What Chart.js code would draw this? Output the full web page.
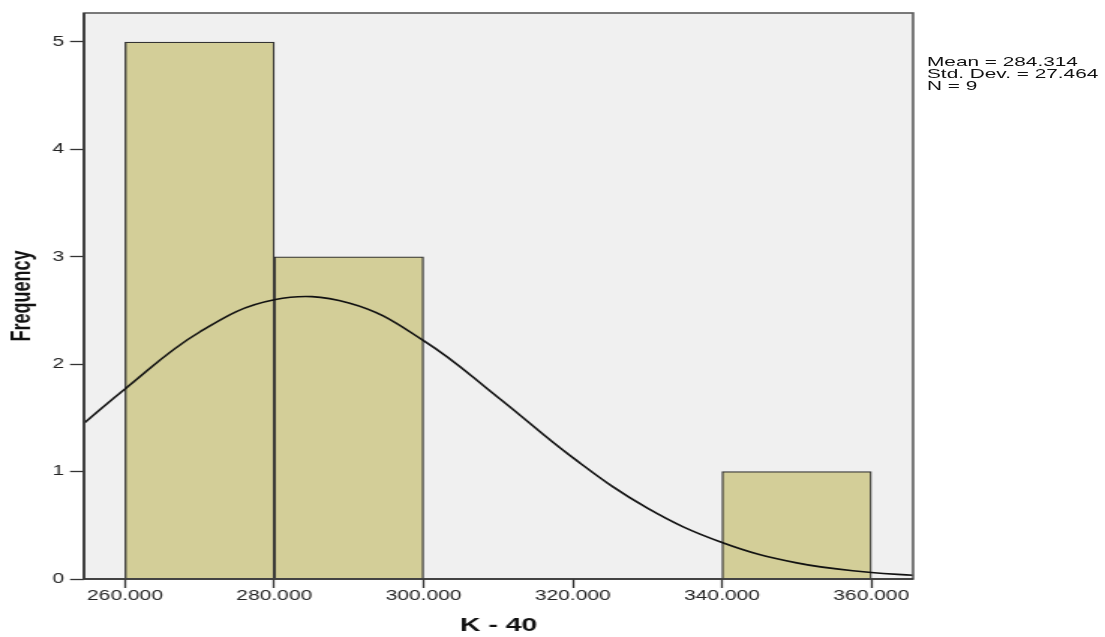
<!DOCTYPE html>
<html>
<head>
<meta charset="utf-8">
<script src="https://cdn.jsdelivr.net/npm/chart.js@4"></script>
<style>
  html, body { margin: 0; padding: 0; background: #fff; overflow: hidden; }
  #wrap { position: relative; width: 1105px; height: 637px; }
  #stats {
    position: absolute; left: 927px; top: 56px;
    font: 13px "Liberation Sans", Arial, sans-serif; line-height: 11.8px; color: #111;
    transform: scaleX(1.6); transform-origin: 0 0; white-space: nowrap;
  }
</style>
</head>
<body>
<div id="wrap">
  <!-- the reference is stretched sideways, so the canvas is drawn narrow and widened by css -->
  <canvas id="myChart" width="737" height="637" style="width:1105px;height:637px;display:block"></canvas>
  <div id="stats">Mean = 284.314<br>Std. Dev. = 27.464<br>N = 9</div>
</div>
<script>
// histogram bins (centres, width 20) and counts
const binCenters = [270, 290, 310, 330, 350];
const counts = [5, 3, 0, 0, 1];

// normal curve, values
const curveX = [254.5, 260, 270, 280, 290, 300, 310, 320, 330, 340, 350, 360, 365.6];
const curveY = [1.45, 1.77, 2.30, 2.60, 2.57, 2.22, 1.69, 1.13, 0.66, 0.34, 0.15, 0.06, 0.035];

const xTicks = [260, 280, 300, 320, 340, 360];
const yTicks = [0, 1, 2, 3, 4, 5];

const frame = {
    id: 'frame',
    beforeDraw(chart) {
        const a = chart.chartArea, c = chart.ctx;
        c.save();
        c.fillStyle = '#f0f0f0';
        c.fillRect(a.left, a.top, a.right - a.left, a.bottom - a.top);
        c.restore();
    },
    afterDraw(chart) {
        const a = chart.chartArea, c = chart.ctx;
        c.save();
        c.strokeStyle = '#5a5a5a';
        c.lineWidth = 1.6;
        c.strokeRect(a.left, a.top, a.right - a.left, a.bottom - a.top);
        c.strokeStyle = '#333';
        c.beginPath();
        c.moveTo(a.left, a.top);
        c.lineTo(a.left, a.bottom);
        c.lineTo(a.right, a.bottom);
        c.stroke();
        c.restore();
    }
};

const fam = '"Liberation Sans", Arial, sans-serif';

new Chart(document.getElementById('myChart'), {
    type: 'bar',
    data: {
        datasets: [{
            type: 'line',
            data: curveX.map((x, i) => ({ x: x, y: curveY[i] })),
            borderColor: '#111',
            borderWidth: 1.6,
            pointRadius: 0,
            tension: 0.4,
            order: 0
        }, {
            type: 'bar',
            data: binCenters.map((x, i) => ({ x: x, y: counts[i] })),
            backgroundColor: '#d3ce98',
            borderColor: '#333',
            borderWidth: 1.3,
            barPercentage: 1,
            categoryPercentage: 1,
            order: 1
        }]
    },
    options: {
        responsive: false,
        animation: false,
        devicePixelRatio: 1,
        layout: { padding: { left: 0, right: 128, top: 13, bottom: 0 } },
        plugins: { legend: { display: false }, tooltip: { enabled: false } },
        scales: {
            x: {
                type: 'linear',
                offset: false,
                min: 254.5,
                max: 365.6,
                afterBuildTicks: s => { s.ticks = xTicks.map(v => ({ value: v })); },
                afterFit: s => { s.height = 58; },
                ticks: {
                    callback: v => v.toFixed(3),
                    font: { family: fam, size: 14 }, color: '#222', padding: 0, maxRotation: 0
                },
                grid: { offset: false, drawOnChartArea: false, tickLength: 9, color: '#333', tickWidth: 1.3 },
                border: { display: false },
                title: {
                    display: true, text: 'K - 40', color: '#111',
                    font: { family: fam, size: 19, weight: 'bold' },
                    padding: { top: 0, bottom: 0 }
                }
            },
            y: {
                min: 0,
                max: 5.27,
                afterBuildTicks: s => { s.ticks = yTicks.map(v => ({ value: v })); },
                afterFit: s => { s.width = 56; },
                ticks: { font: { family: fam, size: 14 }, color: '#222', padding: 4 },
                grid: { drawOnChartArea: false, tickLength: 9.3, color: '#333', tickWidth: 1.3 },
                border: { display: false },
                title: {
                    display: true, text: 'Frequency', color: '#111',
                    font: { family: fam, size: 18, weight: 'bold' },
                    padding: { top: 4, bottom: 0 }
                }
            }
        }
    },
    plugins: [frame]
});
</script>
</body>
</html>
